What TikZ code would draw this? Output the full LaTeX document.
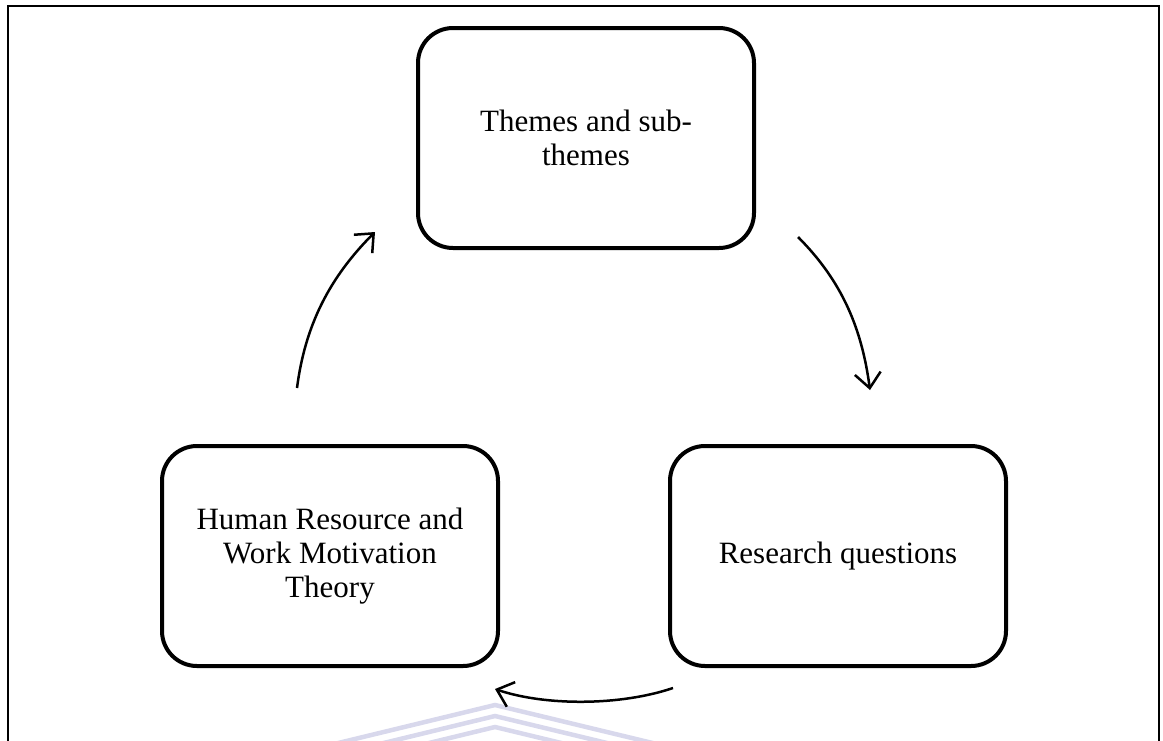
\documentclass[tikz,border=0pt]{standalone}
\usepackage{fontspec}
\setmainfont{Liberation Serif}
\usetikzlibrary{arrows.meta}
\definecolor{wmark}{RGB}{216,216,236}
\tikzset{
  stagebox/.style={draw=black, line width=4pt, rounded corners=35pt,
    minimum width=336pt, minimum height=220pt, align=center, inner sep=0pt,
    font=\fontsize{31}{34}\selectfont},
  cyclearrow/.style={line width=2.5pt, -{Straight Barb[length=15pt,width=26pt,line width=2.5pt]}},
  framestyle/.style={line width=2.5pt},
  wmstyle/.style={wmark, line width=4.5pt}
}
\begin{document}
\begin{tikzpicture}[x=1pt,y=-1pt]
\useasboundingbox (0,0) rectangle (1163,740);
% watermark chevrons
\foreach \d in {0,11,22}{
  \draw[wmstyle] (330,{745+\d}) -- (495,{705+\d}) -- (665,{746+\d});
}
% frame
\draw[framestyle] (8,745) -- (8,6) -- (1159,6) -- (1159,745);
% boxes
\node[stagebox] (top) at (586,138) {Themes and sub-\\themes};
\node[stagebox] (left) at (330,556) {Human Resource and\\Work Motivation\\Theory};
\node[stagebox] (right) at (838,556) {Research questions};
% arrow ends
\coordinate (a1s) at (297,388);
\coordinate (a1e) at (375,232);
\coordinate (a2s) at (798,237);
\coordinate (a2e) at (870,390);
\coordinate (a3s) at (673,688);
\coordinate (a3e) at (495,689);
\draw[cyclearrow] (a1s) .. controls (305,326) and (329,278) .. (a1e);
\draw[cyclearrow] (a2s) .. controls (843,282) and (862,330) .. (a2e);
\draw[cyclearrow] (a3s) .. controls (620,706) and (545,706) .. (a3e);
\end{tikzpicture}
\end{document}
